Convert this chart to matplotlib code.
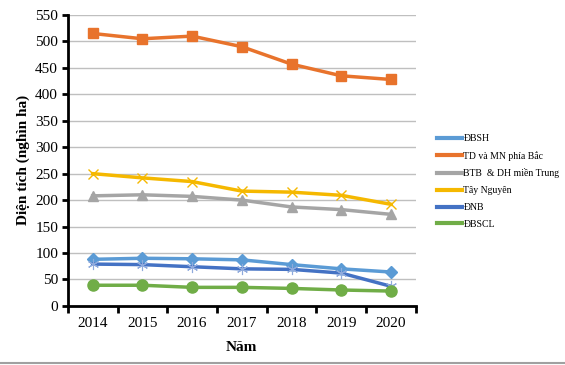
import matplotlib.pyplot as plt
from matplotlib.lines import Line2D
import numpy as np

plt.rcParams['font.family'] = ['Liberation Serif', 'DejaVu Serif']

years = [2014, 2015, 2016, 2017, 2018, 2019, 2020]
dbsh = [88, 90, 89, 87, 78, 70, 64]
td_mn = [515, 505, 510, 490, 457, 435, 428]
btb = [208, 210, 207, 200, 187, 182, 173]
tay_nguyen = [250, 242, 235, 217, 215, 209, 192]
dnb = [79, 78, 74, 70, 69, 62, 37]
dbscl = [39, 39, 35, 35, 33, 30, 28]

fig = plt.figure(figsize=(5.65, 3.65), dpi=100)
ax = fig.add_axes([0.120, 0.162, 0.616, 0.797])

ax.plot(years, dbsh, color='#5B9BD5', marker='D', markersize=6, lw=2.5, label='ĐBSH')
ax.plot(years, td_mn, color='#E8732C', marker='s', markersize=7, lw=2.5, label='TD và MN phía Bắc')
ax.plot(years, btb, color='#A5A5A5', marker='^', markersize=7, lw=2.5, label='BTB  & DH miền Trung')
ax.plot(years, tay_nguyen, color='#F5B800', marker='x', markersize=7, mew=1, lw=2.5, label='Tây Nguyên')
ax.plot(years, dnb, color='#4472C4', marker=(6, 2, 0), markersize=8, mew=0.8, mec='#8FAADC', lw=2.5, label='ĐNB')
ax.plot(years, dbscl, color='#70AD47', marker='o', markersize=8, lw=2.5, label='ĐBSCL')

ax.set_xlim(2013.5, 2020.5)
ax.set_ylim(0, 550)
ax.set_yticks(np.arange(0, 551, 50))
ax.set_xticks(years)
ax.set_xticks(np.arange(2013.5, 2021, 1), minor=True)
ax.tick_params(axis='x', which='major', length=0, labelsize=11, pad=8)
ax.tick_params(axis='x', which='minor', length=5, width=2, direction='out')
ax.tick_params(axis='y', length=4, width=2, labelsize=11, pad=3)
ax.grid(axis='y', color='#BFBFBF', lw=1)
ax.set_axisbelow(True)
for s in ['top', 'right']:
    ax.spines[s].set_visible(False)
for s in ['left', 'bottom']:
    ax.spines[s].set_linewidth(2)

ax.set_ylabel('Diện tích (nghìn ha)', fontsize=11, fontweight='bold', labelpad=4)
ax.set_xlabel('Năm', fontsize=11, fontweight='bold', labelpad=8)

leg = ax.legend(loc='center left', bbox_to_anchor=(1.05, 0.428), frameon=False,
                fontsize=7, handlelength=2.6, handletextpad=0.1, labelspacing=0.8,
                markerscale=0.0001, borderaxespad=0)
for h in leg.get_lines():
    h.set_linewidth(3)

fig.add_artist(Line2D([0, 1], [0.006, 0.006], color='#A0A0A0', lw=1.5, transform=fig.transFigure))

fig.savefig('out.png', dpi=100)
